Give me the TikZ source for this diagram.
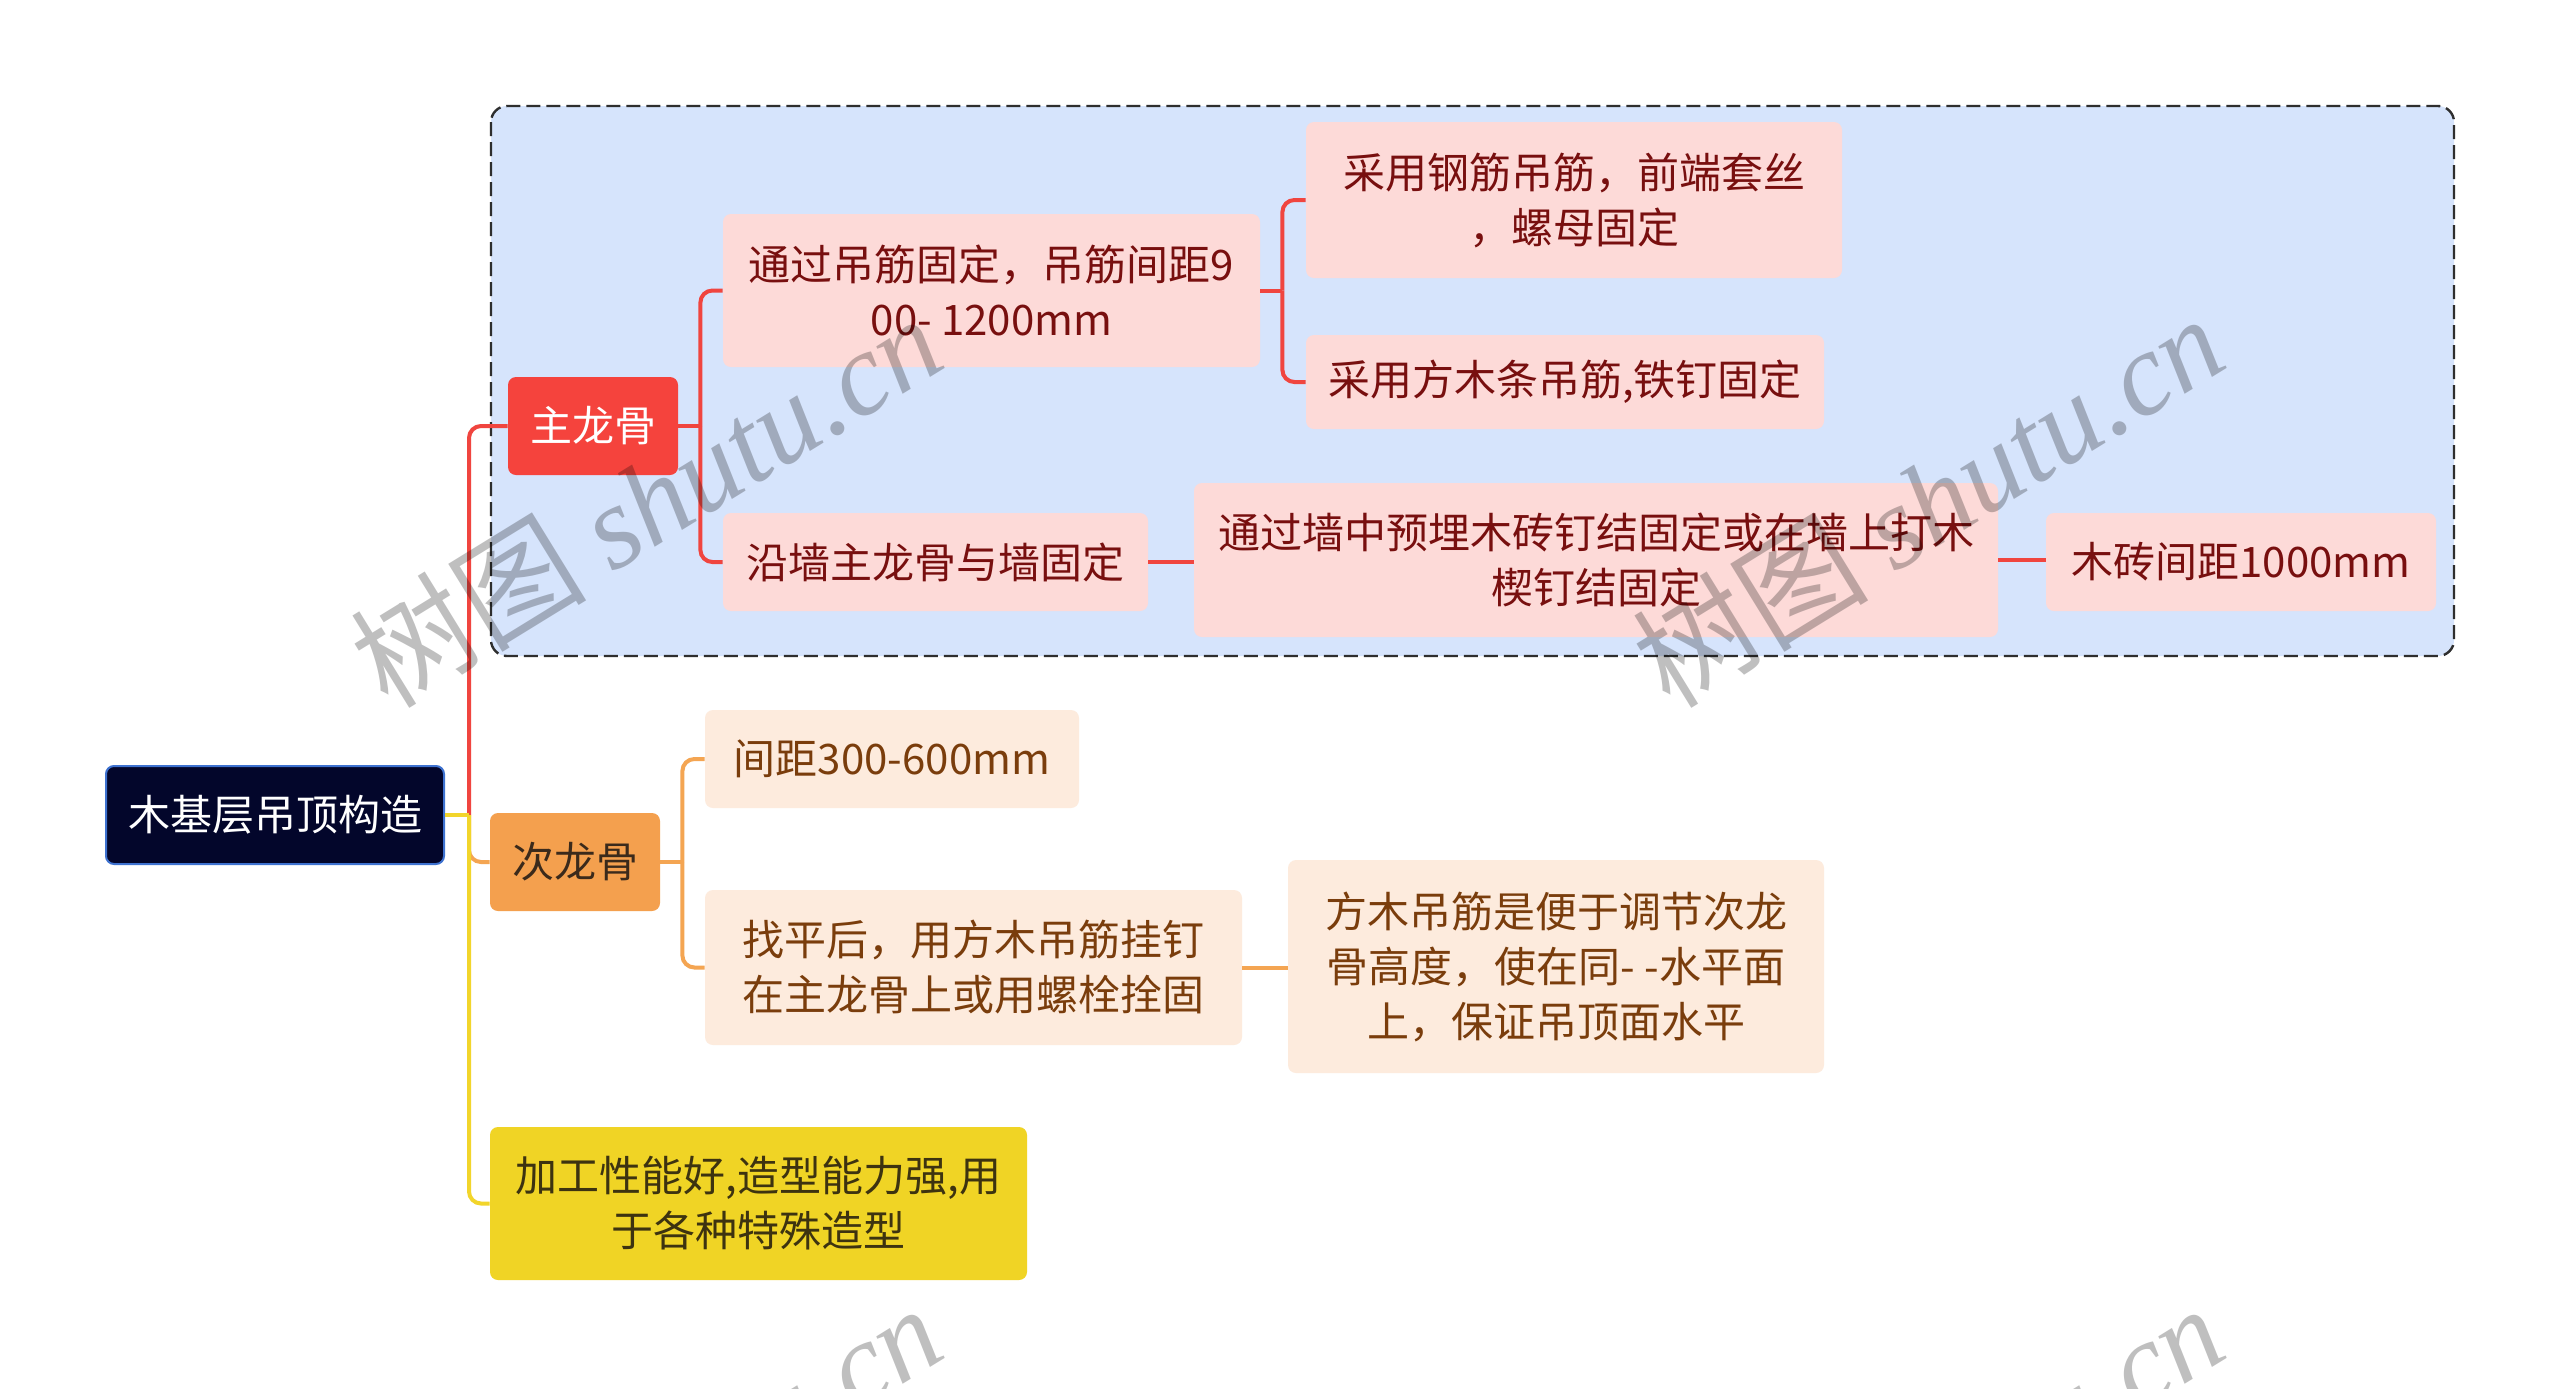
\documentclass[tikz,border=0pt]{standalone}
\usepackage{fontspec}
\setmainfont{Noto Sans CJK SC}
\newfontfamily\wmfont{Liberation Serif}
\usetikzlibrary{calc}

\definecolor{rootfill}{HTML}{03062B}
\definecolor{rootline}{HTML}{3E72D0}
\definecolor{regionfill}{HTML}{D6E4FC}
\definecolor{regionline}{HTML}{2E2E2E}
\definecolor{redfill}{HTML}{F5433D}
\definecolor{redline}{HTML}{F0453F}
\definecolor{pinkfill}{HTML}{FDDAD8}
\definecolor{redtext}{HTML}{780F0F}
\definecolor{orangefill}{HTML}{F4A04E}
\definecolor{orangeline}{HTML}{F4A552}
\definecolor{peachfill}{HTML}{FDEBDD}
\definecolor{orangetext}{HTML}{7A3D0C}
\definecolor{browntext}{HTML}{3B2A1B}
\definecolor{yellowfill}{HTML}{F0D425}
\definecolor{yellowline}{HTML}{F2D52B}
\definecolor{olivetext}{HTML}{3D3310}

\begin{document}
\begin{tikzpicture}[x=0.5pt, y=-0.5pt]
\tikzset{box/.style={rectangle, rounded corners=4pt, align=center, inner sep=0pt, font=\fontsize{21}{27.5}\selectfont}}
	\tikzset{rootnode/.style={box, fill=rootfill, draw=rootline, line width=1pt, text=white, minimum width=169pt, minimum height=49pt}}
	\tikzset{mainA/.style={box, fill=redfill, text=white, minimum width=85pt, minimum height=49pt}}
	\tikzset{leafA/.style={box, fill=pinkfill, text=redtext}}
	\tikzset{mainB/.style={box, fill=orangefill, text=browntext, minimum width=85pt, minimum height=49pt}}
	\tikzset{leafB/.style={box, fill=peachfill, text=orangetext}}
	\tikzset{mainC/.style={box, fill=yellowfill, text=olivetext}}
	\tikzset{lineA/.style={draw=redline, line width=2pt}}
	\tikzset{lineB/.style={draw=orangeline, line width=2pt}}
	\tikzset{lineC/.style={draw=yellowline, line width=2pt}}
	\tikzset{elbow/.style={rounded corners=6pt}}
	\tikzset{wmtext/.style={rotate=31.6, text=black, text opacity=0.25, inner sep=0pt, font=\fontsize{59}{59}\selectfont}}

	\newcommand{\wmark}[2]{
\node[wmtext] (#2) at #1 {树图 {\wmfont\itshape shutu.cn}};
	}

\useasboundingbox (0,0) rectangle (2560,1388);
\fill[white] (0,0) rectangle (2560,1388);

\draw[fill=regionfill, draw=regionline, line width=1.2pt, dash pattern=on 7pt off 3pt, rounded corners=8pt] (491,106) rectangle (2454,656);

\node[rootnode] (root) at (275,815) {木基层吊顶构造};

\node[mainA] (zhu) at (593,426) {主龙骨};
\node[leafA, minimum width=268.5pt, minimum height=76.5pt] (a1) at (991.5,290.5) {通过吊筋固定，吊筋间距9\\00- 1200mm};
\node[leafA, minimum width=268pt, minimum height=78pt] (a11) at (1574,200) {采用钢筋吊筋，前端套丝\\，螺母固定};
\node[leafA, minimum width=259pt, minimum height=47pt] (a12) at (1565,382) {采用方木条吊筋,铁钉固定};
\node[leafA, minimum width=212.5pt, minimum height=49pt] (a2) at (935.5,562) {沿墙主龙骨与墙固定};
\node[leafA, minimum width=402pt, minimum height=77pt] (a21) at (1596,560) {通过墙中预埋木砖钉结固定或在墙上打木\\楔钉结固定};
\node[leafA, minimum width=195pt, minimum height=49pt] (a22) at (2241,562) {木砖间距1000mm};

\node[mainB] (ci) at (575,862) {次龙骨};
\node[leafB, minimum width=187pt, minimum height=49pt] (b1) at (892,759) {间距300-600mm};
\node[leafB, minimum width=268.5pt, minimum height=77.5pt] (b2) at (973.5,967.5) {找平后，用方木吊筋挂钉\\在主龙骨上或用螺栓拴固};
\node[leafB, minimum width=268pt, minimum height=106.5pt] (b21) at (1556,966.5) {方木吊筋是便于调节次龙\\骨高度，使在同- -水平面\\上，保证吊顶面水平};

\node[mainC, minimum width=268.5pt, minimum height=76.5pt] (jia) at (758.5,1203.5) {加工性能好,造型能力强,用\\于各种特殊造型};

\coordinate (rootJ) at ([xshift=12pt]root.east);
\coordinate (zhuJ) at ([xshift=11pt]zhu.east);
\coordinate (a1J) at ([xshift=11pt]a1.east);
\coordinate (ciJ) at ([xshift=11pt]ci.east);

\draw[lineA, elbow] (rootJ) |- (zhu.west);
\draw[lineB, elbow] (rootJ) |- (ci.west);
\draw[lineC, elbow] (rootJ) |- (jia.west);
\draw[lineC] (root.east) -- (rootJ);

\draw[lineA] (zhu.east) -- (zhuJ);
\draw[lineA, elbow] (zhuJ) |- (a1.west);
\draw[lineA, elbow] (zhuJ) |- (a2.west);
\draw[lineA] (a1.east) -- (a1J);
\draw[lineA, elbow] (a1J) |- (a11.west);
\draw[lineA, elbow] (a1J) |- (a12.west);
\draw[lineA] (a2.east) -- (a2.east -| a21.west);
\draw[lineA] (a21.east) -- (a21.east -| a22.west);

\draw[lineB] (ci.east) -- (ciJ);
\draw[lineB, elbow] (ciJ) |- (b1.west);
\draw[lineB, elbow] (ciJ) |- (b2.west);
\draw[lineB] (b2.east) -- (b2.east -| b21.west);

\begin{scope}
\clip (0,0) rectangle (2560,1388);
\wmark{(646,500)}{wm1}
\wmark{(1928,500)}{wm2}
\wmark{(646,1490)}{wm3}
\wmark{(1928,1490)}{wm4}
\end{scope}
\end{tikzpicture}
\end{document}
